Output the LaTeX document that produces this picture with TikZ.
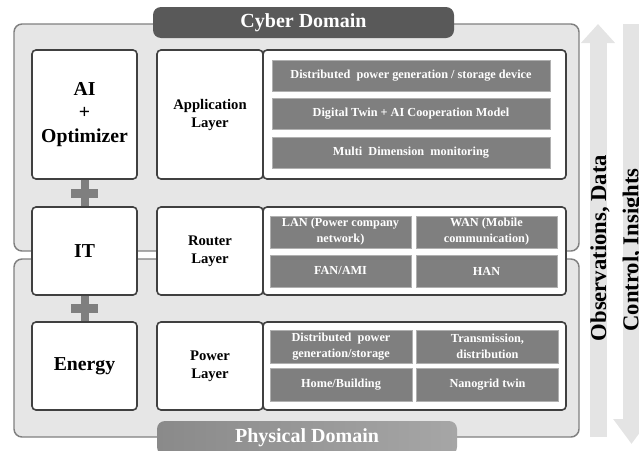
\documentclass[tikz,border=0pt]{standalone}
\usepackage{fontspec}
\setmainfont{Liberation Serif}
\usetikzlibrary{arrows.meta}
\definecolor{domainfill}{HTML}{E6E6E6}
\definecolor{domainedge}{HTML}{808080}
\definecolor{tabdark}{HTML}{595959}
\definecolor{tableft}{HTML}{8A8A8A}
\definecolor{tabright}{HTML}{A6A6A6}
\definecolor{itemfill}{HTML}{7F7F7F}
\definecolor{itemedge}{HTML}{B0B0B0}
\definecolor{boxedge}{HTML}{404040}
\definecolor{flowfill}{HTML}{E4E4E4}
\tikzstyle{domainbox} = [draw=domainedge, fill=domainfill, line width=1.1pt, rounded corners=6pt]
\tikzstyle{domaintab} = [rounded corners=6pt, text=white, inner sep=0pt, font=\fontsize{15}{18}\selectfont\bfseries]
\tikzstyle{pillar} = [draw=boxedge, fill=white, line width=1.2pt, rounded corners=3pt, minimum width=78.75pt, align=center, font=\fontsize{14.8}{17.6}\selectfont\bfseries]
\tikzstyle{layerbox} = [draw=boxedge, fill=white, line width=1.2pt, rounded corners=3pt, minimum width=79.5pt, align=center, font=\fontsize{11}{13.5}\selectfont\bfseries]
\tikzstyle{panelbox} = [draw=boxedge, fill=white, line width=1.2pt, rounded corners=3pt, minimum width=227.25pt]
\tikzstyle{itembox} = [draw=itemedge, fill=itemfill, text=white, inner sep=1pt, align=center, font=\fontsize{9.2}{12}\selectfont\bfseries]
\tikzstyle{link} = [draw=itemfill, line width=6pt]
\tikzstyle{crossbar} = [fill=itemfill, minimum width=20.25pt, minimum height=6.75pt, inner sep=0pt]
\tikzstyle{flow} = [draw=flowfill, line width=12.75pt]
\tikzstyle{flowlabel} = [rotate=90, inner sep=0pt, font=\fontsize{17}{20}\selectfont\bfseries]

\begin{document}
\begin{tikzpicture}[x=0.75pt, y=-0.75pt]
        \useasboundingbox (0,0) rectangle (639,450);
        % domains
        \draw[domainbox] (14,24) rectangle (579,251);
        \draw[domainbox] (14,259) rectangle (579,437);
        \node[domaintab, fill=tabdark, minimum width=225.75pt, minimum height=23.25pt] (cybertab) at (303.5,22.5) {Cyber Domain};
        \node[domaintab, left color=tableft, right color=tabright, minimum width=225pt, minimum height=25.5pt] (phystab) at (307,438) {Physical Domain};
        % pillars
        \node[pillar, minimum height=96.75pt] (ai) at (84.5,114.5) {AI\\+\\Optimizer};
        \node[pillar, minimum height=66pt] (it) at (84.5,251) {IT};
        \node[pillar, minimum height=66pt] (energy) at (84.5,366) {Energy};
        \path[link] (ai) -- (it) node[midway, crossbar] {};
        \path[link] (it) -- (energy) node[midway, crossbar] {};
        % layers
        \node[layerbox, minimum height=96.75pt] (applabel) at (210,114.5) {Application\\Layer};
        \node[panelbox, minimum height=96.75pt, right of=applabel, node distance=153.4pt] (apppanel) {};
        \node[layerbox, minimum height=66pt] (routerlabel) at (210,251) {Router\\Layer};
        \node[panelbox, minimum height=66pt, right of=routerlabel, node distance=153.4pt] (routerpanel) {};
        \node[layerbox, minimum height=66pt] (powerlabel) at (210,366) {Power\\Layer};
        \node[panelbox, minimum height=66pt, right of=powerlabel, node distance=153.4pt] (powerpanel) {};
        % application items
        \node[itembox, minimum width=208.5pt, minimum height=23.25pt] (gendev) at (411,75.5) {Distributed\ \ power generation / storage device};
        \node[itembox, minimum width=208.5pt, minimum height=23.25pt] (twin) at (411,114) {Digital Twin + AI Cooperation Model};
        \node[itembox, minimum width=208.5pt, minimum height=23.25pt] (monitor) at (411,152.5) {Multi\ \ Dimension\ \ monitoring};
        % router items
        \node[itembox, minimum width=105.75pt, minimum height=24pt] (lan) at (340.5,232) {LAN (Power company\\network)};
        \node[itembox, minimum width=105.75pt, minimum height=24pt] (wan) at (486.5,232) {WAN (Mobile\\communication)};
        \node[itembox, minimum width=105.75pt, minimum height=24pt] (fan) at (340.5,271) {FAN/AMI};
        \node[itembox, minimum width=105.75pt, minimum height=24pt] (han) at (486.5,271) {HAN};
        % power items
        \node[itembox, minimum width=106.5pt, minimum height=24.75pt] (dergen) at (341,346.5) {Distributed\ \ power\\generation/storage};
        \node[itembox, minimum width=106.5pt, minimum height=24.75pt] (trans) at (487.5,346.5) {Transmission,\\distribution};
        \node[itembox, minimum width=106.5pt, minimum height=24.75pt] (home) at (341,385) {Home/Building};
        \node[itembox, minimum width=106.5pt, minimum height=24.75pt] (nano) at (487.5,385) {Nanogrid twin};
        % flows
        \coordinate (obsfoot) at (598,437);
        \coordinate (obshead) at (598,24);
        \coordinate (ctrltop) at (631.5,24);
        \coordinate (ctrlfoot) at (631.5,444);
        \draw[flow, -{Triangle[width=24.75pt, length=14.25pt]}] (obsfoot) -- (obshead);
        \draw[flow, -{Triangle[width=26.25pt, length=18.75pt]}] (ctrltop) -- (ctrlfoot);
        \node[flowlabel] (obs) at (600,248) {Observations, Data};
        \node[flowlabel] (ctrl) at (633,250) {Control, Insights};
    \end{tikzpicture}
\end{document}
